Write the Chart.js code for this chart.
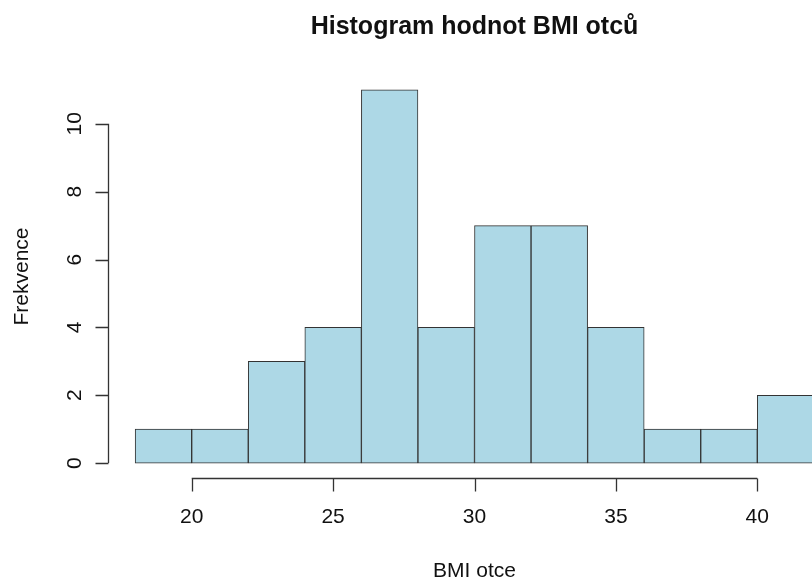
<!DOCTYPE html>
<html>
<head>
<meta charset="utf-8">
<title>Histogram hodnot BMI otců</title>
<script src="https://cdn.jsdelivr.net/npm/chart.js@4"></script>
<style>
    html, body { margin: 0; padding: 0; background: #fff; overflow: hidden; }
    #wrap { width: 812px; height: 579px; overflow: hidden; }
</style>
</head>
<body>
<div id="wrap"><canvas id="histChart" width="850" height="579"></canvas></div>
<script>
    // Histogram bins (left edges, width 2) and counts
    const binStarts = [18, 20, 22, 24, 26, 28, 30, 32, 34, 36, 38, 40];
    const binWidth = 2;
    const counts = [1, 1, 3, 4, 11, 4, 7, 7, 4, 1, 1, 2];
    const xTicks = [20, 25, 30, 35, 40];
    const yTicks = [0, 2, 4, 6, 8, 10];

    const titleText = 'Histogram hodnot BMI otců';
    const xTitle = 'BMI otce';
    const yTitle = 'Frekvence';
    const font = '"Liberation Sans", Arial, sans-serif';

    // R-like axes, tick labels and titles drawn from the chart's scales
    const rAxes = {
        id: 'rAxes',
        afterDraw(chart) {
            const ctx = chart.ctx;
            const area = chart.chartArea;
            const xs = chart.scales.x;
            const ys = chart.scales.y;
            const tick = 13;
            ctx.save();
            ctx.strokeStyle = '#333';
            ctx.lineWidth = 1.3;
            ctx.fillStyle = '#111';

            // y axis
            const ax = Math.round(area.left) + 0.5;
            const y0 = ys.getPixelForValue(yTicks[0]);
            const y1 = ys.getPixelForValue(yTicks[yTicks.length - 1]);
            ctx.beginPath();
            ctx.moveTo(ax, y0);
            ctx.lineTo(ax, y1);
            yTicks.forEach(v => {
                const py = Math.round(ys.getPixelForValue(v)) + 0.5;
                ctx.moveTo(ax, py);
                ctx.lineTo(ax - tick, py);
            });
            ctx.stroke();
            ctx.font = '21px ' + font;
            ctx.textAlign = 'center';
            ctx.textBaseline = 'alphabetic';
            yTicks.forEach(v => {
                const py = ys.getPixelForValue(v);
                ctx.save();
                ctx.translate(ax - 28, py);
                ctx.rotate(-Math.PI / 2);
                ctx.fillText(String(v), 0, 0);
                ctx.restore();
            });

            // x axis
            const ay = Math.round(area.bottom) + 0.5;
            const x0 = xs.getPixelForValue(xTicks[0]);
            const x1 = xs.getPixelForValue(xTicks[xTicks.length - 1]);
            ctx.beginPath();
            ctx.moveTo(x0, ay);
            ctx.lineTo(x1, ay);
            xTicks.forEach(v => {
                const px = Math.round(xs.getPixelForValue(v)) + 0.5;
                ctx.moveTo(px, ay);
                ctx.lineTo(px, ay + tick);
            });
            ctx.stroke();
            xTicks.forEach(v => {
                ctx.fillText(String(v), xs.getPixelForValue(v), ay + 44);
            });

            // titles
            const cx = (area.left + area.right) / 2;
            ctx.fillText(xTitle, cx, 577);
            ctx.save();
            ctx.translate(28, (area.top + area.bottom) / 2);
            ctx.rotate(-Math.PI / 2);
            ctx.fillText(yTitle, 0, 0);
            ctx.restore();
            ctx.font = 'bold 25px ' + font;
            ctx.fillText(titleText, cx, 34);
            ctx.restore();
        }
    };

    const ctx = document.getElementById('histChart').getContext('2d');
    new Chart(ctx, {
        type: 'bar',
        data: {
            datasets: [{
                label: yTitle,
                data: binStarts.map((s, i) => ({ x: s + binWidth / 2, y: counts[i] })),
                backgroundColor: '#add8e6',
                borderColor: '#333',
                borderWidth: 1,
                borderSkipped: false,
                barPercentage: 1,
                categoryPercentage: 1
            }]
        },
        options: {
            responsive: false,
            animation: false,
            layout: { padding: { left: 108, top: 75, right: 9, bottom: 101 } },
            plugins: {
                legend: { display: false },
                tooltip: { enabled: false }
            },
            scales: {
                x: { type: 'linear', min: 17.04, max: 42.96, offset: false, display: false },
                y: { min: -0.44, max: 11.44, display: false }
            }
        },
        plugins: [rAxes]
    });
</script>
</body>
</html>
